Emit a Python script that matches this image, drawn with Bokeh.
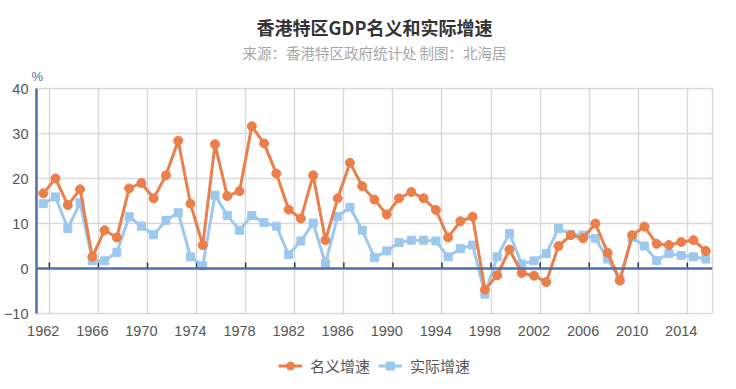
from bokeh.plotting import figure
from bokeh.layouts import column
from bokeh.models import Range1d, FixedTicker, Legend, LegendItem, Span, Title
from bokeh.embed import file_html
from bokeh.resources import INLINE

# ---- data ----
years = list(range(1962, 2017))
nominal = [16.7, 20.0, 14.1, 17.6, 2.6, 8.5, 6.9, 17.8, 19.0, 15.6,
           20.7, 28.4, 14.4, 5.2, 27.6, 16.1, 17.2, 31.6, 27.8, 21.1,
           13.1, 11.1, 20.7, 6.3, 15.6, 23.5, 18.3, 15.3, 12.0, 15.6,
           17.0, 15.6, 13.0, 6.9, 10.5, 11.5, -4.7, -1.5, 4.2, -1.0,
           -1.6, -3.0, 5.0, 7.4, 6.7, 10.0, 3.5, -2.7, 7.4, 9.3,
           5.5, 5.2, 5.9, 6.3, 3.9]
real = [14.4, 15.9, 8.9, 14.6, 1.8, 1.7, 3.6, 11.5, 9.4, 7.5,
        10.7, 12.4, 2.6, 0.6, 16.3, 11.8, 8.5, 11.8, 10.2, 9.4,
        3.1, 6.1, 10.1, 1.1, 11.6, 13.6, 8.5, 2.4, 3.9, 5.8,
        6.3, 6.3, 6.1, 2.6, 4.4, 5.2, -5.7, 2.6, 7.8, 1.0,
        1.7, 3.3, 8.9, 7.6, 7.4, 6.7, 2.1, -2.4, 6.9, 5.0,
        1.8, 3.3, 2.9, 2.6, 2.1]
x_tick_years = [1962, 1966, 1970, 1974, 1978, 1982, 1986, 1990,
                1994, 1998, 2002, 2006, 2010, 2014]
y_ticks = [-10, 0, 10, 20, 30, 40]
series_names = ["名义增速", "实际增速"]
title_text = "香港特区GDP名义和实际增速"
subtitle_text = "来源：香港特区政府统计处 制图：北海居"
unit_text = "%"

ORANGE = "#EB7F4B"
BLUE = "#9DC8EE"
AXIS_BLUE = "#4D70AC"
GRID = "#D9D9D9"
CJK = "Noto Sans CJK SC"

x0, x1 = 1961.45, 2016.55
p = figure(frame_width=676, frame_height=225, output_backend="svg", toolbar_location=None,
           x_range=Range1d(x0, x1), y_range=Range1d(y_ticks[0], y_ticks[-1]),
           min_border_left=36, min_border_right=24, min_border_top=88,
           min_border_bottom=30)
p.outline_line_color = GRID
p.outline_line_width = 1.5
p.background_fill_color = "white"
p.border_fill_color = "white"

# grid
grid_x = [y + 0.5 for y in x_tick_years]
p.xgrid.ticker = FixedTicker(ticks=grid_x)
p.ygrid.ticker = FixedTicker(ticks=y_ticks[2:])
for g in (p.xgrid, p.ygrid):
    g.grid_line_color = GRID
    g.grid_line_width = 1.5

# axes
p.xaxis.ticker = FixedTicker(ticks=x_tick_years)
p.xaxis.axis_line_color = None
p.xaxis.major_tick_line_color = None
p.xaxis.minor_tick_line_color = None
p.xaxis.major_tick_out = 0
p.xaxis.major_tick_in = 0
p.xaxis.major_label_text_font = "Liberation Sans"
p.xaxis.major_label_text_font_size = "14.5px"
p.xaxis.major_label_text_color = "#555555"
p.xaxis.major_label_standoff = 12

p.yaxis.ticker = FixedTicker(ticks=y_ticks)
p.yaxis.axis_line_color = AXIS_BLUE
p.yaxis.axis_line_width = 2.5
p.yaxis.major_tick_line_color = None
p.yaxis.minor_tick_line_color = None
p.yaxis.major_tick_out = 0
p.yaxis.major_tick_in = 0
p.yaxis.major_label_text_font = "Liberation Sans"
p.yaxis.major_label_text_font_size = "14.5px"
p.yaxis.major_label_text_color = "#555555"
p.yaxis.major_label_standoff = 8

# zero line with small ticks
p.add_layout(Span(location=0, dimension="width", line_color=AXIS_BLUE, line_width=2.5))
tick_len = 6 / 4.5
p.segment(x0=grid_x, y0=[0] * len(grid_x), x1=grid_x, y1=[tick_len] * len(grid_x),
          line_color="#333333", line_width=1.5)

# series
p.line(years, real, line_color=BLUE, line_width=3)
p.scatter(years, real, marker="square", size=8, fill_color=BLUE, line_color=BLUE)
p.line(years, nominal, line_color=ORANGE, line_width=3)
p.scatter(years, nominal, marker="circle", size=9, fill_color=ORANGE, line_color=ORANGE)

# titles (first added is closest to the frame)
p.add_layout(Title(text=unit_text, text_font="Liberation Sans", text_font_size="13px",
                   text_color=AXIS_BLUE, text_font_style="normal", align="left",
                   offset=-5, standoff=9), "above")
p.add_layout(Title(text=subtitle_text, text_font=CJK, text_font_size="14.5px",
                   text_color="#A6A6A6", text_font_style="normal", align="center",
                   standoff=0), "above")
p.add_layout(Title(text=title_text, text_font=CJK, text_font_size="18px",
                   text_color="#333333", text_font_style="bold", align="center",
                   standoff=0), "above")

# legend strip below the chart (its renderers lie outside this strip's ranges)
p2 = figure(width=736, height=44, output_backend="svg", toolbar_location=None,
            x_axis_type=None, y_axis_type=None, min_border=0,
            x_range=Range1d(0, 1), y_range=Range1d(0, 1))
p2.outline_line_color = None
p2.grid.visible = False
p2.background_fill_color = "white"
p2.border_fill_color = "white"
lo = p2.line(years, nominal, line_color=ORANGE, line_width=3)
so = p2.scatter(years, nominal, marker="circle", size=9, fill_color=ORANGE, line_color=ORANGE)
lb = p2.line(years, real, line_color=BLUE, line_width=3)
sb = p2.scatter(years, real, marker="square", size=8, fill_color=BLUE, line_color=BLUE)
legend = Legend(items=[LegendItem(label=series_names[0], renderers=[lo, so]),
                       LegendItem(label=series_names[1], renderers=[lb, sb])],
                orientation="horizontal", location="center")
legend.label_text_font = CJK
legend.label_text_font_size = "15px"
legend.label_text_color = "#555555"
legend.border_line_color = None
legend.background_fill_alpha = 0
legend.glyph_width = 24
legend.label_standoff = 8
legend.spacing = 8
legend.padding = 0
legend.margin = 0
p2.add_layout(legend)

open("out.html", "w").write(file_html(column(p, p2, spacing=0), INLINE))
